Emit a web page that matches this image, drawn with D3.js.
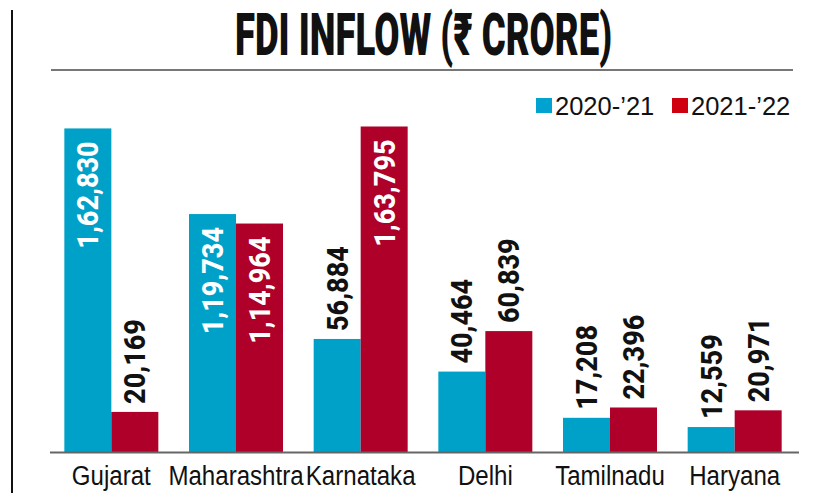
<!DOCTYPE html>
<html><head><meta charset="utf-8">
<script src="https://cdn.jsdelivr.net/npm/d3@7"></script>
<style>body{margin:0;background:#fff}svg{display:block}</style>
</head><body>
<script>
const categories = ["Gujarat","Maharashtra","Karnataka","Delhi","Tamilnadu","Haryana"];
const series = ["2020-’21","2021-’22"];
const values2020 = [162830,119734,56884,40464,17208,12559];
const values2021 = [20169,114964,163795,60839,22396,20971];
const colors = ["#00A1C8","#AE0028"];
const legendColors = ["#00A3CF","#CF0010"];

const W=819,H=493;
const svg=d3.select("body").append("svg").attr("width",W).attr("height",H);

const x0=d3.scaleBand().domain(categories).range([49,797]).paddingInner(0.246).paddingOuter(0.123);
const x1=d3.scaleBand().domain(series).range([0,x0.bandwidth()]);
const y=d3.scaleLinear().domain([0,163795]).range([452,126.5]);

// frame lines
svg.append("line").attr("x1",12).attr("x2",12).attr("y1",10).attr("y2",H).attr("stroke","#111").attr("stroke-width",2);
svg.append("line").attr("x1",51).attr("x2",793).attr("y1",70).attr("y2",70).attr("stroke","#777").attr("stroke-width",2);

// title
svg.append("text").attr("x",0).attr("y",0).attr("text-anchor","middle")
  .attr("transform","translate(423.5,55) scale(0.62,1)")
  .style("font-family","Roboto, 'Noto Sans', 'DejaVu Sans', sans-serif").style("font-weight",900).style("font-size","59px")
  .attr("fill","#111").text("FDI INFLOW (₹ CRORE)");

// legend
const legX=[536,672];
series.forEach((s,i)=>{
  svg.append("rect").attr("x",legX[i]).attr("y",98).attr("width",16).attr("height",15).attr("fill",legendColors[i]);
  svg.append("text").attr("x",legX[i]+19).attr("y",115)
    .style("font-family","'Liberation Sans', Arial, sans-serif").style("font-size","25.5px").attr("fill","#111").text(s);
});

const data=categories.map((c,i)=>({cat:c,vals:[values2020[i],values2021[i]]}));
const g=svg.append("g");
const groups=g.selectAll("g.grp").data(data).join("g").attr("class","grp").attr("transform",d=>`translate(${x0(d.cat)},0)`);
const bars=groups.selectAll("g.bar").data(d=>d.vals.map((v,i)=>({v,s:series[i],i}))).join("g").attr("class","bar");
bars.append("rect").attr("x",d=>x1(d.s)).attr("width",x1.bandwidth()).attr("y",d=>y(d.v)).attr("height",d=>y(0)-y(d.v)).attr("fill",d=>colors[d.i]);
const fmt=v=>{ // Indian grouping
  const s=String(v); if(s.length<=3) return s;
  let last=s.slice(-3), rest=s.slice(0,-3);
  rest=rest.replace(/\B(?=(\d{2})+(?!\d))/g,",");
  return rest+","+last;
};
bars.append("text")
  .attr("transform",d=>{
    const cx=x1(d.s)+x1.bandwidth()/2+10.5;
    const inside=d.v>100000;
    const yy=inside? y(d.v)+13 : y(d.v)-8;
    return `translate(${cx},${yy}) rotate(-90) scale(0.9,1)`;
  })
  .attr("text-anchor",d=>d.v>100000?"end":"start")
  .attr("fill",d=>d.v>100000?"#fff":"#111")
  .style("font-family","Roboto, 'Liberation Sans', sans-serif").style("font-weight",800).style("font-size","30px")
  .text(d=>fmt(d.v));

// baseline
svg.append("line").attr("x1",50).attr("x2",799).attr("y1",452.5).attr("y2",452.5).attr("stroke","#666").attr("stroke-width",2);

// category labels
svg.selectAll("text.cat").data(categories).join("text").attr("class","cat")
  .attr("transform",d=>`translate(${x0(d)+x0.bandwidth()/2},485) scale(0.86,1)`)
  .attr("text-anchor","middle")
  .style("font-family","'Liberation Sans', Arial, sans-serif").style("font-size","28px").attr("fill","#111").text(d=>d);
</script>
</body></html>
